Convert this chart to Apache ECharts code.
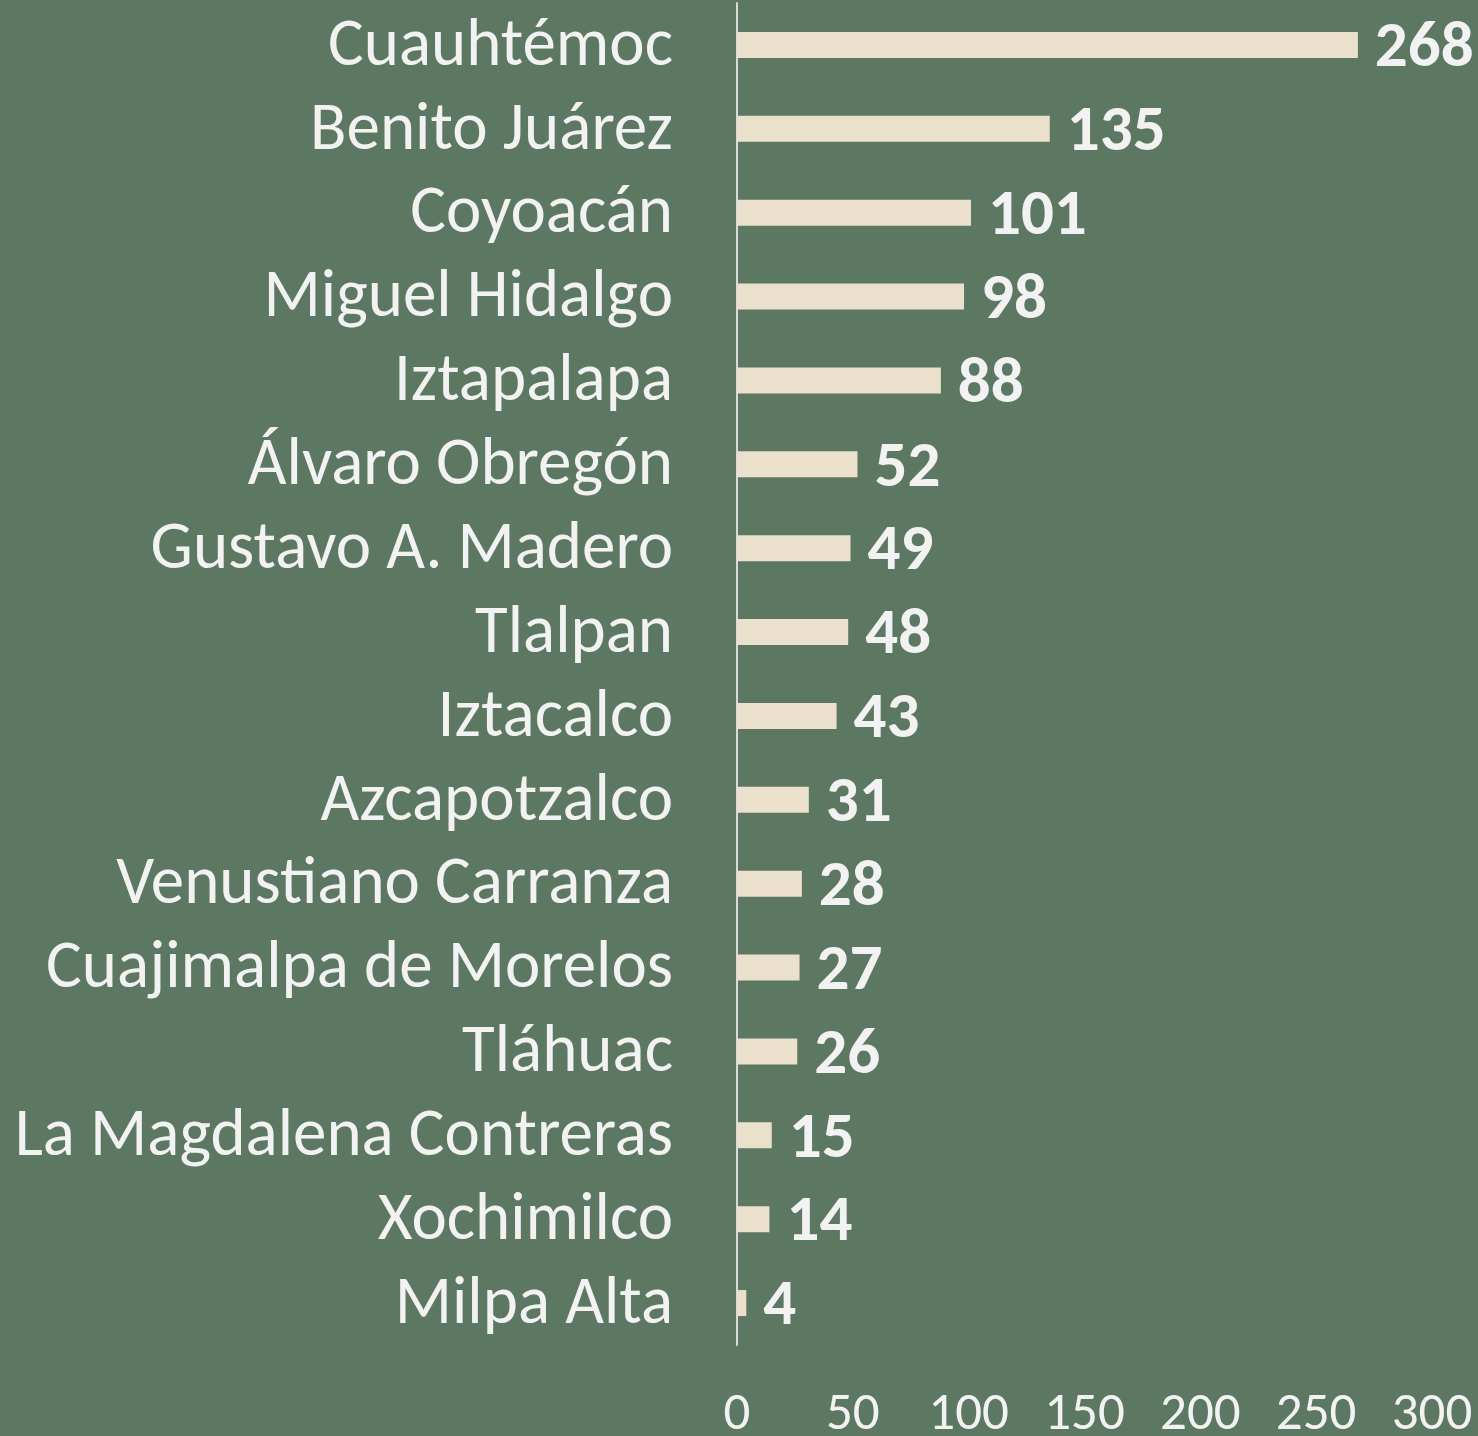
<!DOCTYPE html>
<html lang="es">
<head>
    <meta charset="UTF-8">
    <title>Alcaldías</title>
    <script src="https://cdn.jsdelivr.net/npm/echarts@6/dist/echarts.min.js"></script>
    <style>
        html, body { margin: 0; padding: 0; background: #5d7862; }
        #main { width: 1478px; height: 1436px; }
    </style>
</head>
<body>
<div id="main"></div>
<script type="text/javascript">
    // datos
    var alcaldias = ['Cuauhtémoc', 'Benito Juárez', 'Coyoacán', 'Miguel Hidalgo', 'Iztapalapa',
        'Álvaro Obregón', 'Gustavo A. Madero', 'Tlalpan', 'Iztacalco', 'Azcapotzalco',
        'Venustiano Carranza', 'Cuajimalpa de Morelos', 'Tláhuac', 'La Magdalena Contreras',
        'Xochimilco', 'Milpa Alta'];
    var valores = [268, 135, 101, 98, 88, 52, 49, 48, 43, 31, 28, 27, 26, 15, 14, 4];
    var xMin = 0, xMax = 300, xPaso = 50;

    var fuente = 'Carlito, Lato, sans-serif';
    var myChart = echarts.init(document.getElementById('main'));

    myChart.setOption({
        backgroundColor: '#5d7862',
        animation: false,
        grid: {left: 737, right: 46, top: 3, bottom: 91, containLabel: false, outerBoundsMode: 'none'},
        xAxis: {
            type: 'value',
            min: xMin,
            max: xMax,
            interval: xPaso,
            splitLine: {show: false},
            axisLine: {show: false},
            axisTick: {show: false},
            axisLabel: {color: '#f2f2f2', fontSize: 53, fontFamily: fuente, margin: 44}
        },
        yAxis: {
            type: 'category',
            inverse: true,
            data: alcaldias,
            axisLine: {show: true, lineStyle: {color: '#d9d9d9', width: 2}},
            axisTick: {show: false},
            axisLabel: {
                interval: 0,
                margin: 64,
                formatter: function (v) { return '{n|' + v + '}'; },
                rich: {
                    n: {color: '#f2f2f2', fontSize: 67, fontFamily: fuente, padding: [6, 0, 0, 0]}
                }
            }
        },
        series: [{
            type: 'bar',
            data: valores,
            barWidth: 26,
            itemStyle: {color: '#ebe0cc'},
            label: {
                show: true,
                position: 'right',
                distance: 17,
                offset: [0, 5],
                color: '#f2f2f2',
                fontSize: 65,
                fontWeight: 'bold',
                fontFamily: fuente
            }
        }]
    });
</script>
</body>
</html>
